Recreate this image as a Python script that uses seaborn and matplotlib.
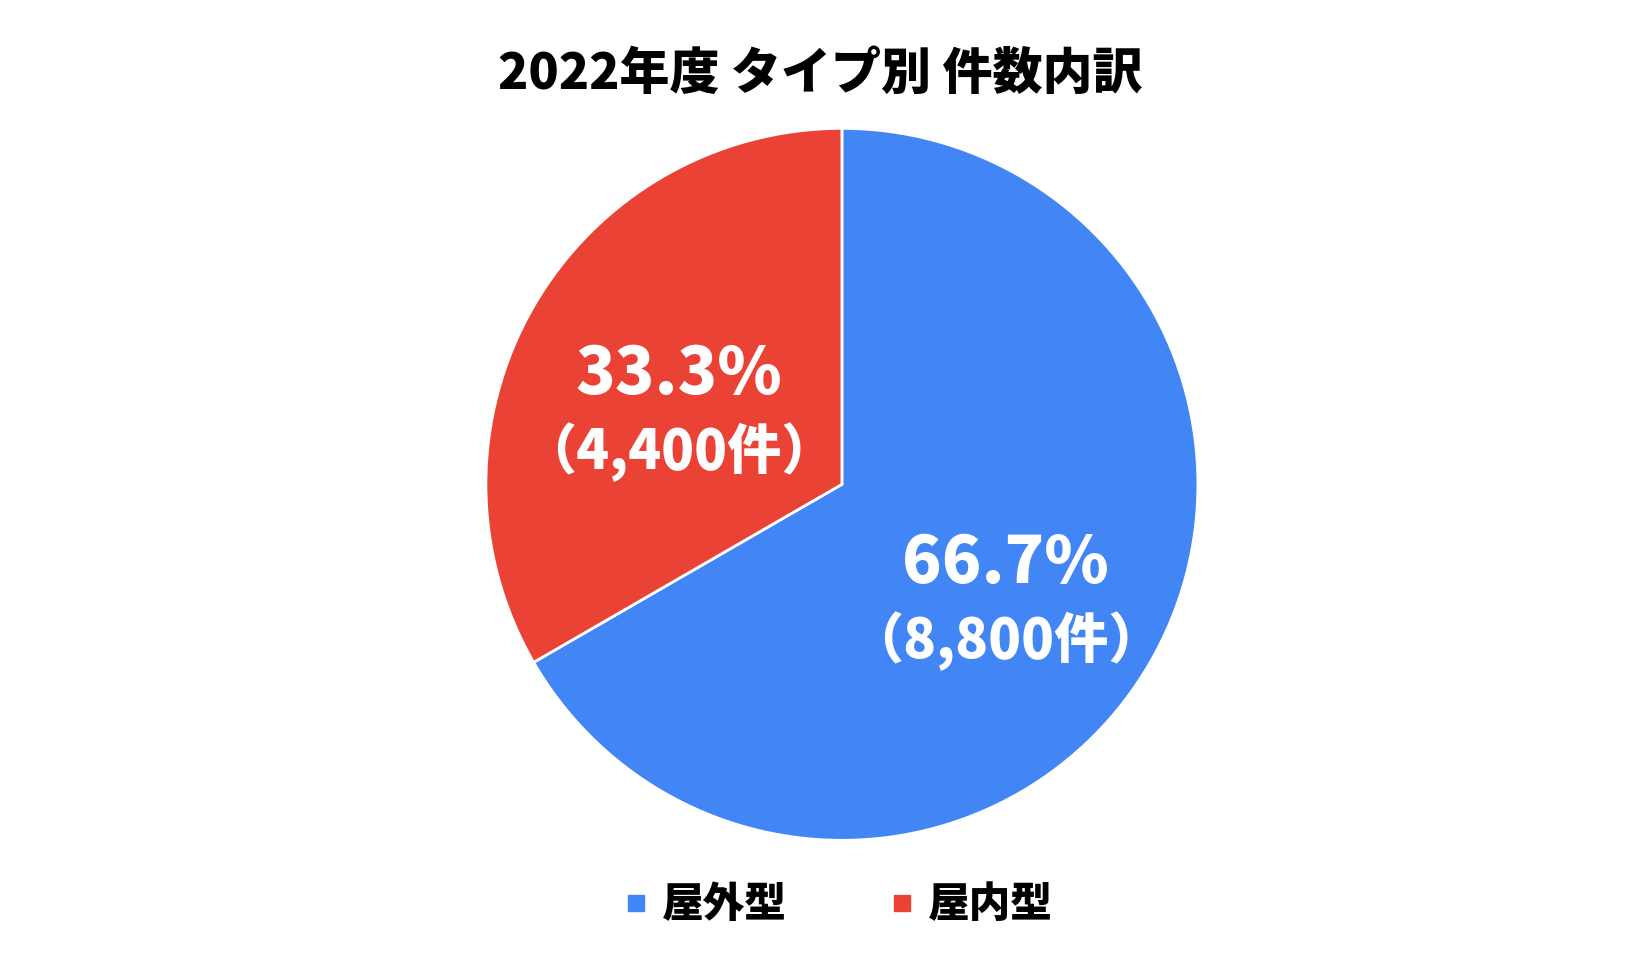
import numpy as np
import matplotlib
matplotlib.use("Agg")
import matplotlib.pyplot as plt
from matplotlib.lines import Line2D
import seaborn as sns

# data
title = "2022年度 タイプ別 件数内訳"
labels = ["屋外型", "屋内型"]
counts = [8800, 4400]
colors = ["#4285F4", "#EA4335"]

sns.set_theme(style="white")
plt.rcParams['font.family'] = ['Noto Sans CJK JP', 'DejaVu Sans']
plt.rcParams['text.color'] = 'black'

palette = sns.color_palette(colors)

fig = plt.figure(figsize=(16.5, 9.76), dpi=100)
ax = fig.add_axes([0.2945, 0.139, 0.4315, 0.7295])

wedges, _ = ax.pie(counts, colors=palette, startangle=90, counterclock=False,
                   wedgeprops=dict(edgecolor="white", linewidth=2))
ax.set_xlim(-1, 1)
ax.set_ylim(-1, 1)
ax.set_aspect("equal")

# label block sits a bit inside the wedge middle and slightly lower
total = sum(counts)
for w, n in zip(wedges, counts):
    mid = np.deg2rad((w.theta1 + w.theta2) / 2)
    x, y = 0.53 * np.cos(mid), 0.53 * np.sin(mid) - 0.066
    ax.text(x, y + 0.11, f"{n / total * 100:.1f}%", ha="center", va="center",
            color="white", fontsize=47, fontweight="heavy")
    ax.text(x, y - 0.11, f"（{n:,}件）", ha="center", va="center",
            color="white", fontsize=39, fontweight="heavy")

fig.suptitle(title, x=0.497, y=0.924, va="center", fontsize=36,
             fontweight="heavy", color="black")

handles = [Line2D([], [], marker="s", linestyle="none", markersize=11,
                  markerfacecolor=c, markeredgecolor=c) for c in palette]
fig.legend(handles, labels, loc="center", bbox_to_anchor=(0.508, 0.0725),
           ncol=2, frameon=False, prop=dict(size=30, weight="heavy"),
           handletextpad=0.32, columnspacing=2.47, handlelength=0.6)

fig.savefig("out.png", dpi=100, facecolor="white")
